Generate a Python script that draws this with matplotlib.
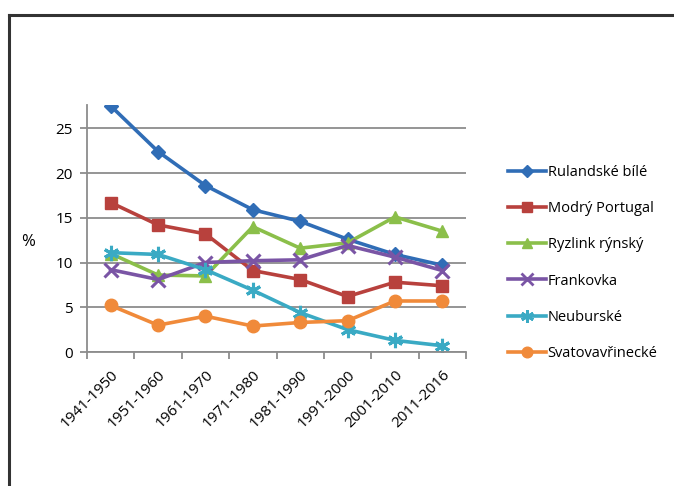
import numpy as np
import matplotlib
matplotlib.use("Agg")
import matplotlib.pyplot as plt
from matplotlib.lines import Line2D

plt.rcParams['font.family'] = ['Open Sans', 'DejaVu Sans']

# data
decades = ["1941-1950", "1951-1960", "1961-1970", "1971-1980",
           "1981-1990", "1991-2000", "2001-2010", "2011-2016"]
rulandske = [27.5, 22.4, 18.6, 15.9, 14.6, 12.6, 10.9, 9.7]
modry = [16.7, 14.2, 13.2, 9.1, 8.1, 6.2, 7.8, 7.4]
ryzlink = [11.0, 8.6, 8.5, 14.0, 11.6, 12.2, 15.1, 13.5]
frankovka = [9.2, 8.1, 10.0, 10.2, 10.3, 11.9, 10.6, 9.1]
neuburske = [11.1, 10.9, 9.2, 6.9, 4.4, 2.5, 1.3, 0.7]
svatov = [5.2, 3.0, 4.0, 2.9, 3.3, 3.5, 5.7, 5.7]

names = ["Rulandské bílé", "Modrý Portugal", "Ryzlink rýnský",
         "Frankovka", "Neuburské", "Svatovavřinecké"]
series = [rulandske, modry, ryzlink, frankovka, neuburske, svatov]
colors = ['#306DB6', '#B8413D', '#8BBF4A', '#7A55A5', '#3AAAC4', '#F08A3A']
markers = ['D', 's', '^', 'x', (6, 2, 0), 'o']
msizes = [7, 9, 9, 10, 11, 9]

fig = plt.figure(figsize=(6.74, 4.86), dpi=100)
ax = fig.add_axes([87/674, 1 - 352/486, (466-87)/674, (352-105)/486])

x = np.arange(len(decades))
for vals, name, c, m, ms in zip(series, names, colors, markers, msizes):
    mew = 2.2 if m in ('x', (6, 2, 0)) else 1
    ax.plot(x, vals, color=c, lw=2.6, marker=m, markersize=ms,
            markeredgewidth=mew, markeredgecolor=c, label=name,
            clip_on=True, solid_joinstyle='round')

ax.set_xlim(-0.5, len(decades) - 0.5)
ax.set_ylim(0, 27.6)
ax.set_yticks([0, 5, 10, 15, 20, 25])
ax.yaxis.grid(True, color='#8c8c8c', lw=1.3)
ax.set_axisbelow(True)

ax.set_xticks(x)
ax.set_xticklabels(decades, rotation=45, ha='right', rotation_mode='anchor',
                   fontsize=11)
ax.set_xticks(np.arange(-0.5, len(decades)), minor=True)
ax.tick_params(axis='x', which='major', length=0, pad=11)
ax.tick_params(axis='x', which='minor', length=5, color='#8c8c8c', width=1.3)
ax.tick_params(axis='y', length=5, color='#8c8c8c', width=1.3, labelsize=11, pad=5)

for s in ['top', 'right']:
    ax.spines[s].set_visible(False)
for s in ['left', 'bottom']:
    ax.spines[s].set_color('#8c8c8c')
    ax.spines[s].set_linewidth(1.3)

fig.text(28/674, 1 - 242/486, "%", fontsize=12, ha='center', va='center')

handles = [Line2D([0], [0], color=c, lw=2.6, marker=m, markersize=ms * 0.85,
                  markeredgewidth=(2 if m in ('x', (6, 2, 0)) else 1),
                  markeredgecolor=c)
           for c, m, ms in zip(colors, markers, msizes)]
fig.legend(handles, names, loc='upper left', bbox_to_anchor=(495/674, 1 - 152/486),
           frameon=False, fontsize=10.5, handlelength=2.6, handletextpad=0.1,
           labelspacing=1.45)

# page frame
fig.add_artist(Line2D([8.5/674, 8.5/674], [0, 1 - 15/486], transform=fig.transFigure,
                      color='#333333', lw=2.2))
fig.add_artist(Line2D([8.5/674, 1], [1 - 15/486, 1 - 15/486], transform=fig.transFigure,
                      color='#333333', lw=2.2))

fig.savefig("out.png", dpi=100)
